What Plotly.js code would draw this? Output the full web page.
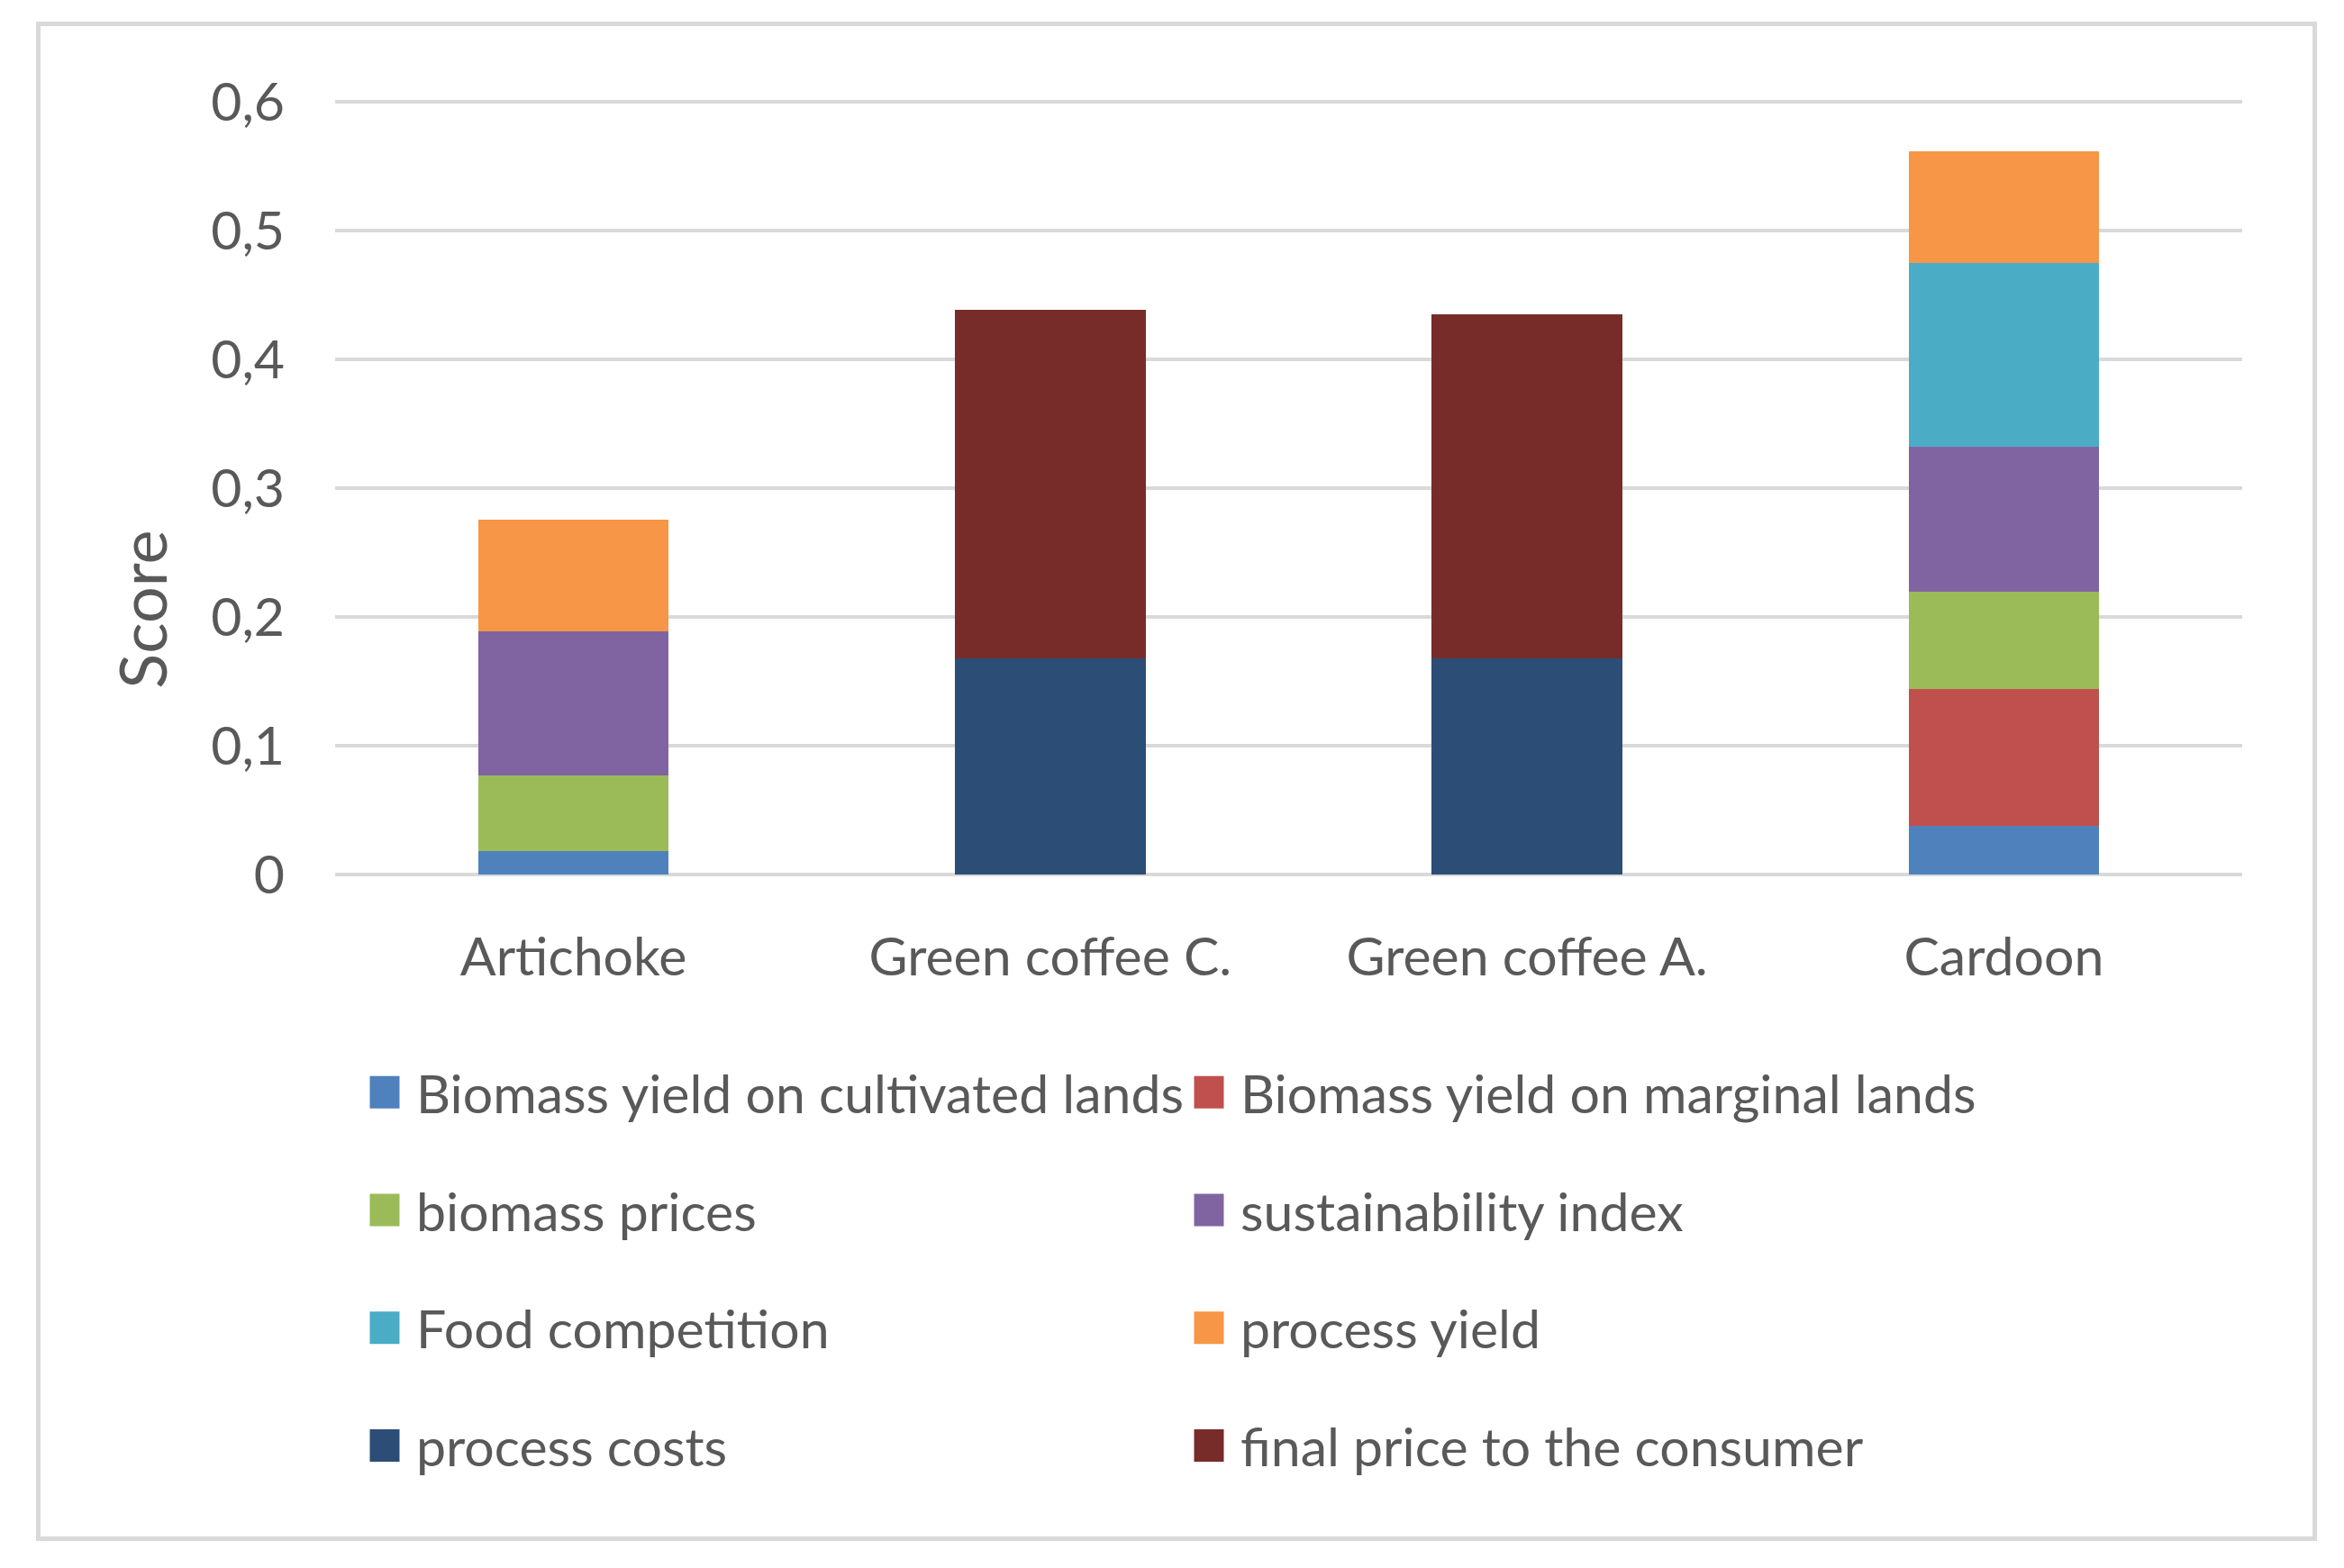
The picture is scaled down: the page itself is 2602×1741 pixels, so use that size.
<!DOCTYPE html>
<html>
<head>
<meta charset="utf-8">
<script src="https://cdn.plot.ly/plotly-3.0.1.min.js"></script>
<style>
  body { margin: 0; background: #fff; }
  #wrap { position: relative; width: 2602px; height: 1741px; }
  #frame { position: absolute; left: 40px; top: 24px; width: 2522px; height: 1677px;
           border: 5px solid #d9d9d9; pointer-events: none; }
</style>
</head>
<body>
<div id="wrap">
  <div id="chart"></div>
  <div id="frame"></div>
</div>
<script>
// Categories and stacked series (scores)
const categories = ['Artichoke', 'Green coffee C.', 'Green coffee A.', 'Cardoon'];

const yieldCultivated = [0.018, 0, 0, 0.038];
const yieldMarginal = [0, 0, 0, 0.106];
const biomassPrices = [0.059, 0, 0, 0.076];
const sustainability = [0.112, 0, 0, 0.112];
const foodCompetition = [0, 0, 0, 0.143];
const processYield = [0.087, 0, 0, 0.087];
const processCosts = [0, 0.168, 0.168, 0];
const finalPrice = [0, 0.271, 0.267, 0];

const seriesNames = [
    'Biomass yield on cultivated lands',
    'Biomass yield on marginal lands',
    'biomass prices',
    'sustainability index',
    'Food competition',
    'process yield',
    'process costs',
    'final price to the consumer'
];
const seriesValues = [yieldCultivated, yieldMarginal, biomassPrices, sustainability,
    foodCompetition, processYield, processCosts, finalPrice];
const seriesColors = ['#4f81bd', '#c0504d', '#9bbb59', '#8064a2',
    '#4bacc6', '#f79646', '#2c4d75', '#772c2a'];

const traces = seriesNames.map((name, i) => ({
    x: categories,
    y: seriesValues[i],
    type: 'bar',
    name: name,
    marker: { color: seriesColors[i], line: { width: 0 } },
    legend: i % 2 === 0 ? 'legend' : 'legend2',
    legendgroup: 'g' + i,
    hoverinfo: 'x+y+name'
}));

const fontFamily = 'Lato, sans-serif';
const textColor = '#595959';

const legendBase = {
    orientation: 'v',
    traceorder: 'grouped',
    tracegroupgap: 51,
    itemwidth: 60,
    xref: 'container',
    yref: 'container',
    yanchor: 'top',
    xanchor: 'left',
    bgcolor: 'rgba(0,0,0,0)',
    font: { family: fontFamily, size: 59, color: textColor }
};

const layout = {
    width: 2602,
    height: 1741,
    margin: { l: 372, r: 113, t: 112, b: 770, autoexpand: false },
    paper_bgcolor: '#ffffff',
    plot_bgcolor: '#ffffff',
    barmode: 'stack',
    bargap: 0.6,
    separators: ', ',
    font: { family: fontFamily, size: 59, color: textColor },
    xaxis: {
        showgrid: false,
        showline: false,
        zeroline: false,
        ticks: '',
        automargin: false,
        ticklabelstandoff: 52
    },
    yaxis: {
        range: [0, 0.601],
        tick0: 0,
        dtick: 0.1,
        showgrid: true,
        gridcolor: '#d9d9d9',
        gridwidth: 4,
        zeroline: true,
        zerolinecolor: '#d9d9d9',
        zerolinewidth: 4,
        showline: false,
        ticks: '',
        automargin: false,
        ticklabelstandoff: 55
    },
    showlegend: true,
    legend: Object.assign({}, legendBase, { x: 392 / 2602, y: 1 - 1168 / 1741 }),
    legend2: Object.assign({}, legendBase, { x: 1307 / 2602, y: 1 - 1168 / 1741 }),
    annotations: [{
        text: 'Score',
        xref: 'paper',
        yref: 'paper',
        x: (157 - 372) / 2117,
        y: (971 - 677) / 858,
        xanchor: 'center',
        yanchor: 'middle',
        textangle: -90,
        showarrow: false,
        font: { family: fontFamily, size: 72, color: textColor }
    }]
};

Plotly.newPlot('chart', traces, layout, { displayModeBar: false }).then(() => {
    // enlarge legend swatches to the Excel-like squares
    document.querySelectorAll('g.legendpoints path').forEach(p => {
        const t = p.getAttribute('transform') || '';
        p.setAttribute('transform', t + ' scale(2.75,3)');
    });
});
</script>
</body>
</html>
